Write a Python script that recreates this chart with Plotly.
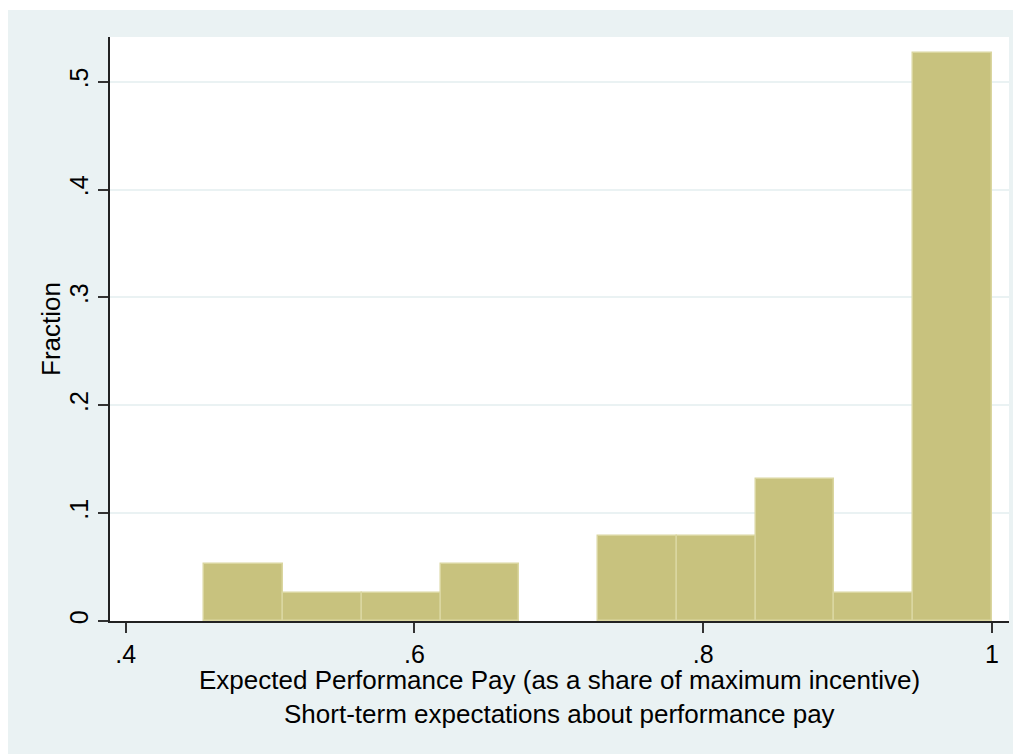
import plotly.graph_objects as go

# Histogram data (fraction per bin)
bin_start = 0.4545
bin_width = 0.05455
fractions = [0.0526, 0.0263, 0.0263, 0.0526, 0.0, 0.0789, 0.0789, 0.1316, 0.0263, 0.5263]
x_ticks = [0.4, 0.6, 0.8, 1.0]
x_tick_labels = [".4", ".6", ".8", "1"]
y_ticks = [0, 0.1, 0.2, 0.3, 0.4, 0.5]
y_tick_labels = ["0", ".1", ".2", ".3", ".4", ".5"]
x_title_1 = "Expected Performance Pay (as a share of maximum incentive)"
x_title_2 = "Short-term expectations about performance pay"
y_title = "Fraction"

centers = [bin_start + bin_width * (i + 0.5) for i in range(len(fractions))]
heights = [v if v > 0 else None for v in fractions]

OFF = 8  # default page body margin
W, H = 1021, 754
L = 110 - OFF
R = W - (1009 - OFF)
T = 37 - OFF
B = H - (621 - OFF)
pw, ph = W - L - R, H - T - B

def py(page_y):
    return (H - B - (page_y - OFF)) / ph

def px(page_x):
    return ((page_x - OFF) - L) / pw

BG = "#EAF2F3"
FONT = "Liberation Sans, Arial, sans-serif"
FS = 25

fig = go.Figure(go.Bar(
    x=centers, y=heights, width=[bin_width] * len(fractions),
    marker=dict(color="#C8C27E", line=dict(color="#DAD6A0", width=1.5)),
))

fig.update_layout(
    width=W, height=H,
    margin=dict(l=L, r=R, t=T, b=B, pad=0),
    paper_bgcolor=BG, plot_bgcolor="white",
    showlegend=False,
    bargap=0,
    font=dict(family=FONT, size=FS, color="black"),
    xaxis=dict(
        range=[0.3891, 1.0118], tickvals=x_ticks, ticktext=x_tick_labels,
        showgrid=False, zeroline=False, showline=True, linecolor="#222", linewidth=1.5,
        ticks="outside", ticklen=10, tickwidth=1.5, tickcolor="#333",
        tickfont=dict(size=FS, family=FONT), ticklabelstandoff=0,
    ),
    yaxis=dict(
        range=[0, 0.5414], tickvals=y_ticks, ticktext=y_tick_labels,
        showgrid=True, gridcolor=BG, gridwidth=1.5, zeroline=False,
        showline=True, linecolor="#222", linewidth=1.5,
        ticks="outside", ticklen=10, tickwidth=1.5, tickcolor="#333",
        tickangle=-90, tickfont=dict(size=FS, family=FONT), ticklabelstandoff=0,
    ),
    annotations=[
        dict(text=x_title_1, xref="paper", yref="paper", x=0.5, y=py(680),
             showarrow=False, xanchor="center", yanchor="middle", font=dict(size=26)),
        dict(text=x_title_2, xref="paper", yref="paper", x=0.5, y=py(714),
             showarrow=False, xanchor="center", yanchor="middle", font=dict(size=26)),
        dict(text=y_title, xref="paper", yref="paper", x=px(51), y=0.5,
             showarrow=False, xanchor="center", yanchor="middle", textangle=-90,
             font=dict(size=26)),
    ],
    shapes=[
        dict(type="rect", xref="paper", yref="paper", x0=-L / pw - 0.01, x1=1 + R / pw + 0.01,
             y0=py(10), y1=py(8) + 0.01, fillcolor="white", line=dict(width=0), layer="below"),
    ],
)

fig.write_html("out.html")
